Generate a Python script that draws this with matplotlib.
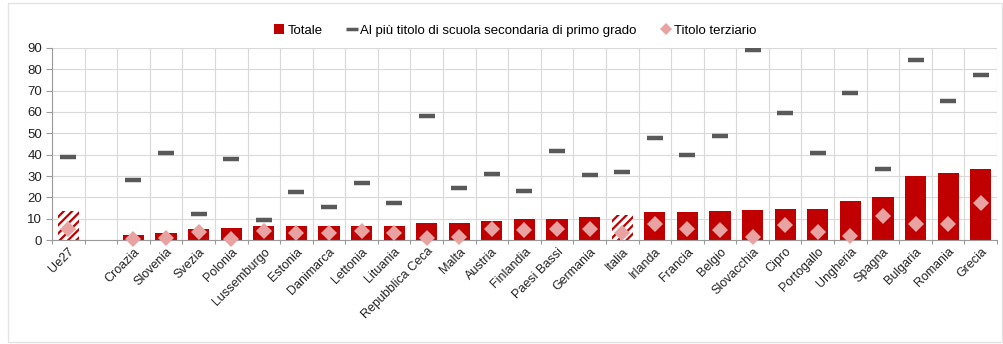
import numpy as np
import matplotlib
matplotlib.use("Agg")
import matplotlib.pyplot as plt
from matplotlib.lines import Line2D
from matplotlib.patches import Patch, Rectangle

plt.rcParams['font.family'] = ['Liberation Sans', 'DejaVu Sans']
plt.rcParams['hatch.linewidth'] = 1.6

# Paesi (la seconda posizione resta vuota come separatore)
paesi = ["Ue27", "", "Croazia", "Slovenia", "Svezia", "Polonia", "Lussemburgo",
         "Estonia", "Danimarca", "Lettonia", "Lituania", "Repubblica Ceca",
         "Malta", "Austria", "Finlandia", "Paesi Bassi", "Germania", "Italia",
         "Irlanda", "Francia", "Belgio", "Slovacchia", "Cipro", "Portogallo",
         "Ungheria", "Spagna", "Bulgaria", "Romania", "Grecia"]

totale = [13.7, np.nan, 2.3, 3.4, 5.1, 5.6, 6.4, 6.6, 6.7, 6.7, 6.8, 7.8,
          7.8, 8.7, 9.8, 9.8, 10.9, 11.7, 13.2, 13.2, 13.6, 14.0, 14.4, 14.7,
          18.1, 20.3, 30.1, 31.2, 33.2]

primo_grado = [39.0, np.nan, 28.0, 41.0, 12.0, 38.0, 9.2, 22.3, 15.3, 26.5,
               17.5, 57.9, 24.5, 30.9, 23.1, 41.5, 30.3, 32.0, 47.7, 39.8,
               48.7, 88.9, 59.6, 41.0, 69.1, 33.5, 84.2, 65.2, 77.2]

terziario = [5.0, np.nan, 0.5, 1.0, 3.6, 0.6, 4.2, 3.4, 3.1, 4.4, 3.1, 0.8,
             1.2, 5.1, 4.7, 5.3, 5.1, 3.1, 7.5, 5.0, 4.7, 1.2, 6.9, 3.6,
             1.9, 11.2, 7.5, 7.5, 17.2]

# Aggregati evidenziati con tratteggio
evidenziati = ["Ue27", "Italia"]

rosso = "#C00000"
grigio = "#595959"
rosa = "#E8A2A2"

x = np.arange(len(paesi))

fig = plt.figure(figsize=(10.04, 3.44), dpi=100)
ax = fig.add_axes([0.0518, 0.3023, 0.9412, 0.5582])

for i, v in enumerate(totale):
    if np.isnan(v):
        continue
    if paesi[i] in evidenziati:
        ax.bar(x[i], v, width=0.65, color="white", edgecolor=rosso,
               hatch="////", linewidth=0, zorder=2)
    else:
        ax.bar(x[i], v, width=0.65, color=rosso, linewidth=0, zorder=2)

ax.plot(x, primo_grado, linestyle="none", marker="_", markersize=11.5,
        markeredgewidth=3.2, color=grigio, zorder=3)
ax.plot(x, terziario, linestyle="none", marker="D", markersize=8.5,
        color=rosa, markeredgewidth=0, zorder=4, clip_on=False)

ax.set_ylim(0, 90)
ax.set_yticks(np.arange(0, 91, 10))
ax.set_xlim(-0.5, len(paesi) - 0.5)
ax.set_xticks(x)
ax.set_xticklabels(paesi, rotation=45, ha="right", rotation_mode="anchor",
                   fontsize=9, color="#222222")
ax.tick_params(axis="x", length=0, pad=4)
ax.set_xticks(np.arange(-0.5, len(paesi), 1), minor=True)
ax.tick_params(axis="x", which="minor", length=3, color="#9a9a9a", width=0.8)
ax.tick_params(axis="y", labelsize=9.5, length=4, color="#9a9a9a",
               labelcolor="#222222", pad=3)

ax.grid(True, axis="y", color="#d9d9d9", linewidth=0.8, zorder=0)
ax.grid(True, axis="x", which="minor", color="#d9d9d9", linewidth=0.8, zorder=0)
ax.set_axisbelow(True)

for s in ["top", "right"]:
    ax.spines[s].set_visible(False)
for s in ["left", "bottom"]:
    ax.spines[s].set_color("#9a9a9a")
    ax.spines[s].set_linewidth(0.8)

handles = [
    Patch(facecolor=rosso, edgecolor="none", label="Totale"),
    Line2D([], [], linestyle="none", marker="_", markersize=9,
           markeredgewidth=2.5, color=grigio,
           label="Al più titolo di scuola secondaria di primo grado"),
    Line2D([], [], linestyle="none", marker="D", markersize=6,
           markeredgewidth=0, color=rosa, label="Titolo terziario"),
]
fig.legend(handles=handles, loc="center", bbox_to_anchor=(0.513, 0.912),
           ncol=3, frameon=False, fontsize=9.5, handlelength=0.8,
           handletextpad=0.25, columnspacing=1.8, handleheight=0.8)

# cornice esterna del grafico
fig.patches.append(Rectangle((0.008, 0.006), 0.99, 0.985,
                             transform=fig.transFigure, fill=False,
                             edgecolor="#e3e3e3", linewidth=1))

fig.savefig("out.png", dpi=100)
